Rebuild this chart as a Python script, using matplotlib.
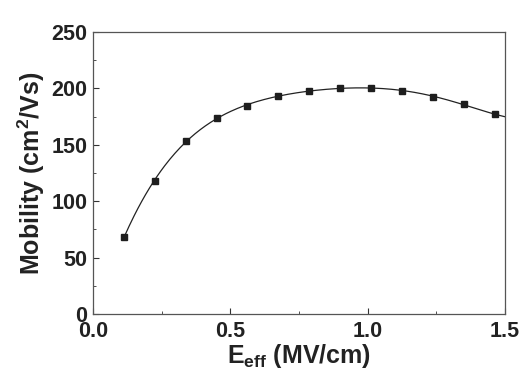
import numpy as np
import matplotlib.pyplot as plt

# data
e_eff = [0.1125, 0.225, 0.3375, 0.45, 0.5625, 0.675, 0.7875, 0.9,
         1.0125, 1.125, 1.2375, 1.35, 1.4625]
mobility = [68, 118, 153.5, 173.7, 184.3, 193.2, 197.9, 200.3,
            200.5, 197.9, 192.6, 186.1, 177]

plt.rcParams['font.family'] = ['Liberation Sans', 'DejaVu Sans']
plt.rcParams['font.weight'] = 'bold'
plt.rcParams['axes.labelweight'] = 'bold'
plt.rcParams['mathtext.fontset'] = 'custom'
plt.rcParams['mathtext.bf'] = 'Liberation Sans:bold'
plt.rcParams['mathtext.rm'] = 'Liberation Sans:bold'

fig = plt.figure(figsize=(5.3, 3.8), dpi=100)
ax = fig.add_axes([93 / 530, 1 - 314 / 380, 412 / 530, 282 / 380])

# smooth fit curve through the points, running to the axis edge
coef = np.polyfit(e_eff, mobility, 6)
xs = np.linspace(e_eff[0], 1.5, 300)
ax.plot(xs, np.polyval(coef, xs), color='#222222', lw=0.9)
ax.plot(e_eff, mobility, 's', color='#1e1e1e', ms=4.8)

ax.set_xlim(0, 1.5)
ax.set_ylim(0, 250)
ax.set_xticks([0.0, 0.5, 1.0, 1.5])
ax.set_xticks([0.25, 0.75, 1.25], minor=True)
ax.set_yticks(range(0, 251, 50))
ax.set_yticks(range(25, 250, 50), minor=True)
ax.set_xticklabels(['0.0', '0.5', '1.0', '1.5'])
ax.tick_params(which='both', direction='in', labelsize=15.5, colors='#333333',
               labelcolor='#222222')
ax.tick_params(which='major', length=4)
ax.tick_params(which='minor', length=2.5)
ax.tick_params(axis='x', pad=5)
ax.tick_params(axis='y', pad=4)
for sp in ax.spines.values():
    sp.set_color('#555555')
    sp.set_linewidth(0.9)

ax.set_xlabel(r'E$_{\mathbf{eff}}$ (MV/cm)', fontsize=18, labelpad=0, color='#222222')
ax.set_ylabel(r'Mobility (cm$^{\mathbf{2}}$/Vs)', fontsize=18, labelpad=3, color='#222222')

fig.savefig('out.png', dpi=100)
